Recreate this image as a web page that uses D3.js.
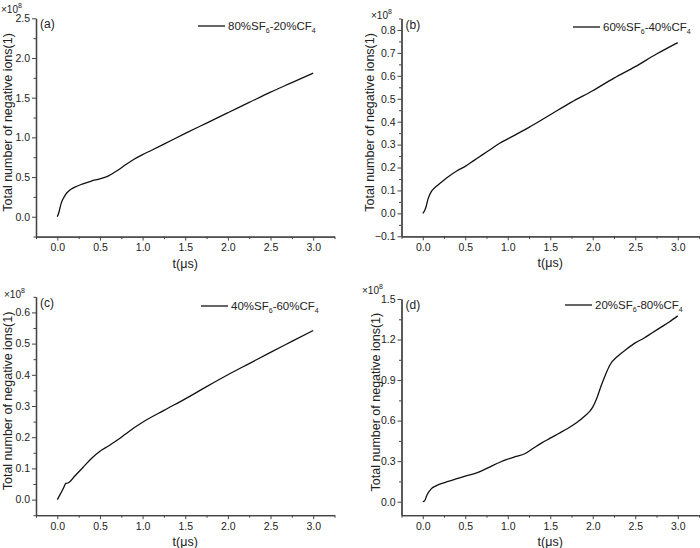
<!DOCTYPE html>
<html><head><meta charset="utf-8">
<script src="https://cdn.jsdelivr.net/npm/d3@7"></script>
<style>body{margin:0;background:#fff}svg{display:block;font-family:"Liberation Sans",Arial,sans-serif}</style>
</head><body>
<svg id="c" width="700" height="548"></svg>
<script>
const xTicks = [0, 0.5, 1.0, 1.5, 2.0, 2.5, 3.0];
const xMinor = [-0.25, 0.25, 0.75, 1.25, 1.75, 2.25, 2.75, 3.25];

const tA = [0,0.02,0.04,0.06,0.08,0.1,0.14,0.2,0.3,0.4,0.5,0.6,0.7,0.8,0.9,1.0,1.1,1.25,1.5,1.75,2.0,2.25,2.5,2.75,3.0];
const vA = [0,0.06,0.15,0.21,0.25,0.285,0.33,0.37,0.415,0.45,0.478,0.515,0.58,0.655,0.725,0.783,0.835,0.915,1.05,1.18,1.31,1.44,1.57,1.69,1.81];

const tB = [0,0.02,0.04,0.06,0.08,0.1,0.15,0.2,0.3,0.4,0.5,0.6,0.7,0.8,0.9,1.0,1.25,1.5,1.75,2.0,2.25,2.5,2.75,3.0];
const vB = [0,0.01,0.03,0.06,0.08,0.095,0.115,0.13,0.16,0.185,0.205,0.23,0.255,0.28,0.305,0.325,0.375,0.43,0.485,0.535,0.59,0.64,0.695,0.745];

const tC = [0,0.03,0.07,0.1,0.13,0.15,0.2,0.3,0.4,0.5,0.6,0.7,0.8,0.9,1.0,1.25,1.5,1.75,2.0,2.25,2.5,2.75,3.0];
const vC = [0,0.015,0.036,0.052,0.054,0.058,0.074,0.103,0.132,0.155,0.172,0.19,0.21,0.23,0.248,0.286,0.323,0.362,0.4,0.436,0.472,0.507,0.542];

const tD = [0,0.02,0.05,0.08,0.1,0.15,0.2,0.3,0.4,0.5,0.6,0.7,0.8,0.9,1.0,1.1,1.2,1.3,1.4,1.5,1.6,1.7,1.8,1.9,2.0,2.05,2.1,2.15,2.2,2.3,2.4,2.5,2.6,2.7,2.8,2.9,3.0];
const vD = [0,0.005,0.05,0.08,0.095,0.115,0.13,0.15,0.17,0.19,0.205,0.23,0.26,0.29,0.315,0.335,0.355,0.395,0.435,0.47,0.505,0.54,0.58,0.63,0.7,0.77,0.86,0.94,1.01,1.08,1.13,1.175,1.21,1.25,1.29,1.33,1.375];

const yTicksA = [0,0.5,1.0,1.5,2.0,2.5];
const yMinorA = [-0.25,0.25,0.75,1.25,1.75,2.25];
const yTicksB = [-0.1,0,0.1,0.2,0.3,0.4,0.5,0.6,0.7,0.8];
const yMinorB = [-0.05,0.05,0.15,0.25,0.35,0.45,0.55,0.65,0.75,0.85];
const yTicksC = [0,0.1,0.2,0.3,0.4,0.5,0.6];
const yMinorC = [-0.05,0.05,0.15,0.25,0.35,0.45,0.55,0.65];
const yTicksD = [0,0.3,0.6,0.9,1.2,1.5];
const yMinorD = [0.15,0.45,0.75,1.05,1.35];

const labels = ["(a)","(b)","(c)","(d)"];
const legendSF6 = ["80%","60%","40%","20%"];
const legendCF4 = ["20%","40%","60%","80%"];

const svg = d3.select("#c");
const axisColor = "#444";
const textColor = "#222";

const panels = [
  {t:tA,v:vA,yd:[-0.25,2.5],yt:yTicksA,ym:yMinorA,L:36,R:334.5,T:18.3,B:236.6,lx:198,ly:26,mx:1,my:8,ylabX:8},
  {t:tB,v:vB,yd:[-0.1,0.85],yt:yTicksB,ym:yMinorB,L:401.5,R:699,T:18.5,B:236.3,lx:573,ly:27,mx:371,my:14,ylabX:370},
  {t:tC,v:vC,yd:[-0.05,0.65],yt:yTicksC,ym:yMinorC,L:36,R:334.5,T:296.8,B:515.2,lx:201,ly:306,mx:4,my:293,ylabX:8},
  {t:tD,v:vD,yd:[-0.1,1.5],yt:yTicksD,ym:yMinorD,L:401.5,R:699,T:299,B:515.2,lx:565,ly:305,mx:362,my:289,ylabX:376}
];

panels.forEach((p,i)=>{
  const x = d3.scaleLinear().domain([-0.25,3.25]).range([p.L,p.R]);
  const y = d3.scaleLinear().domain(p.yd).range([p.B,p.T]);
  const g = svg.append("g");
  const fmt = d3.format(".1f");

  const xm = g.append("g").attr("transform",`translate(0,${p.B})`)
    .call(d3.axisBottom(x).tickValues(xMinor).tickSize(2.5).tickSizeOuter(0).tickFormat(""));
  const ym = g.append("g").attr("transform",`translate(${p.L},0)`)
    .call(d3.axisLeft(y).tickValues(p.ym).tickSize(2.5).tickSizeOuter(0).tickFormat(""));
  const xa = g.append("g").attr("transform",`translate(0,${p.B})`)
    .call(d3.axisBottom(x).tickValues(xTicks).tickSize(4).tickSizeOuter(0).tickPadding(3).tickFormat(fmt));
  const ya = g.append("g").attr("transform",`translate(${p.L},0)`)
    .call(d3.axisLeft(y).tickValues(p.yt).tickSize(4).tickSizeOuter(0).tickPadding(2).tickFormat(fmt));
  [xm,ym,xa,ya].forEach(a=>{
    a.selectAll("path").attr("stroke",axisColor).attr("stroke-width",1.3);
    a.selectAll("line").attr("stroke",axisColor).attr("stroke-width",1);
    a.selectAll("text").attr("fill",textColor).style("font-size","10.5px").style("font-family","'Liberation Sans',Arial,sans-serif");
  });

  const line = d3.line().x(d=>x(d[0])).y(d=>y(d[1])).curve(d3.curveMonotoneX);
  g.append("path").datum(p.t.map((t,k)=>[t,p.v[k]]))
    .attr("d",line).attr("fill","none").attr("stroke","#111").attr("stroke-width",1.3);

  g.append("text").attr("x",(p.L+p.R)/2).attr("y",p.B+31).attr("text-anchor","middle")
    .attr("fill",textColor).style("font-size","12.5px").text("t(\u03bcs)");
  const cy = (p.T+p.B)/2 - 5;
  g.append("text").attr("transform",`translate(${p.ylabX+4},${cy}) rotate(-90)`).attr("text-anchor","middle")
    .attr("fill",textColor).style("font-size","12.5px").text("Total number of negative ions(1)");
  const m = g.append("text").attr("x",p.mx).attr("y",p.my+5).attr("fill",textColor).style("font-size","10px");
  m.append("tspan").text("\u00d710");
  m.append("tspan").attr("dy",-5).style("font-size","7px").text("8");
  g.append("text").attr("x",p.L+4).attr("y",p.T+10).attr("fill",textColor).style("font-size","12px").text(labels[i]);
  g.append("line").attr("x1",p.lx).attr("x2",p.lx+27).attr("y1",p.ly).attr("y2",p.ly).attr("stroke","#111").attr("stroke-width",1.3);
  const lt = g.append("text").attr("x",p.lx+30).attr("y",p.ly+4).attr("fill",textColor).style("font-size","11.5px");
  lt.append("tspan").text(legendSF6[i]+"SF");
  lt.append("tspan").attr("dy",3).style("font-size","7px").text("6");
  lt.append("tspan").attr("dy",-3).text("-"+legendCF4[i]+"CF");
  lt.append("tspan").attr("dy",3).style("font-size","7px").text("4");
});
</script>
</body></html>
